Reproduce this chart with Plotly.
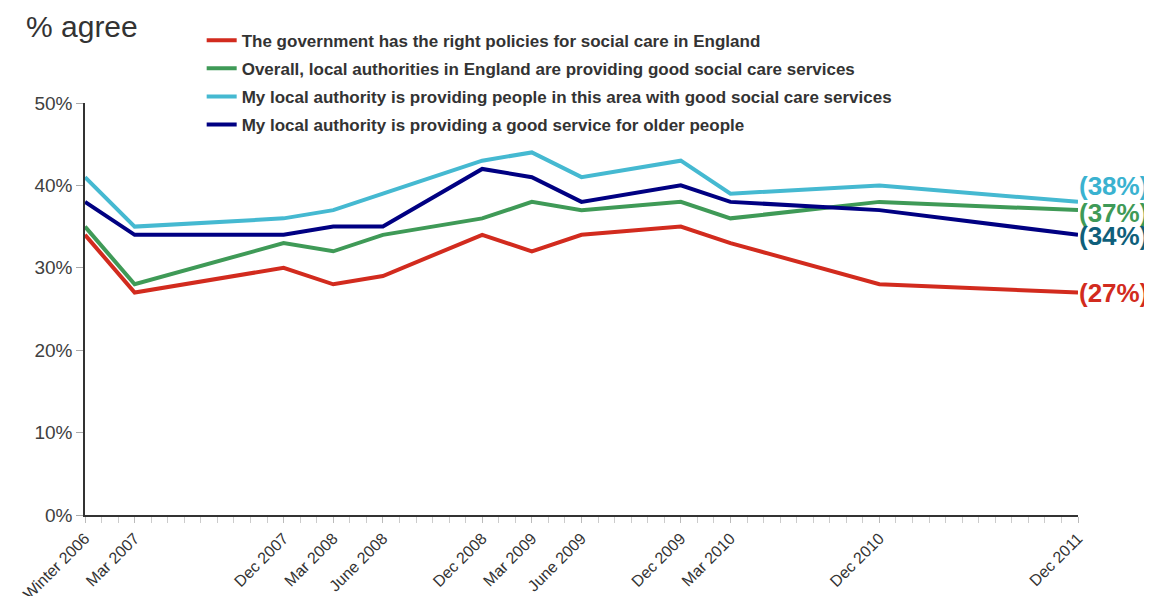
import plotly.graph_objects as go

# Survey waves (month offsets from Winter 2006 = Dec 2006)
wave_labels = ["Winter 2006", "Mar 2007", "Dec 2007", "Mar 2008", "June 2008", "Dec 2008",
               "Mar 2009", "June 2009", "Dec 2009", "Mar 2010", "Dec 2010", "Dec 2011"]
wave_months = [0, 3, 12, 15, 18, 24, 27, 30, 36, 39, 48, 60]

gov_policies = [34, 27, 30, 28, 29, 34, 32, 34, 35, 33, 28, 27]
la_england = [35, 28, 33, 32, 34, 36, 38, 37, 38, 36, 38, 37]
my_la_area = [41, 35, 36, 37, 39, 43, 44, 41, 43, 39, 40, 38]
my_la_older = [38, 34, 34, 35, 35, 42, 41, 38, 40, 38, 37, 34]

y_ticks = [0, 10, 20, 30, 40, 50]
y_tick_text = ["0%", "10%", "20%", "30%", "40%", "50%"]

series_names = [
    "The government has the right policies for social care in England",
    "Overall, local authorities in England are providing good social care services",
    "My local authority is providing people in this area with good social care services",
    "My local authority is providing a good service for older people",
]
series_values = [gov_policies, la_england, my_la_area, my_la_older]
line_colors = ["#d22b1e", "#3f9a57", "#45b9d1", "#000082"]
label_colors = ["#d22b1e", "#3f9a57", "#3ab2d0", "#0f5f7b"]
label_shift = [0, -3, 16, -1]

FONT = "Liberation Sans, Arial, sans-serif"

fig = go.Figure()
for i, (name, vals) in enumerate(zip(series_names, series_values)):
    fig.add_trace(go.Scatter(
        x=wave_months, y=vals, mode="lines", name=name,
        line=dict(color=line_colors[i], width=4),
        legendgroup=f"g{i}", hoverinfo="skip",
    ))
    fig.add_annotation(
        x=wave_months[-1], y=vals[-1], xref="x", yref="y",
        text=f"({vals[-1]}%)", showarrow=False, xanchor="left", yanchor="middle",
        xshift=-1, yshift=label_shift[i],
        font=dict(family=FONT, size=26, color=label_colors[i], weight="bold"),
    )

fig.add_annotation(
    x=0, y=1, xref="paper", yref="paper", xanchor="left", yanchor="top",
    text="% agree", showarrow=False, xshift=-61, yshift=95,
    font=dict(family=FONT, size=30, color="#333333"),
)

fig.update_layout(
    width=1144, height=588,
    margin=dict(l=77, r=74, t=95, b=81),
    paper_bgcolor="white", plot_bgcolor="white",
    font=dict(family=FONT, color="#404040"),
    showlegend=True,
    legend=dict(
        x=0.1175, y=1.195, xanchor="left", yanchor="top",
        font=dict(size=17, color="#333333", weight="bold"),
        traceorder="grouped", tracegroupgap=3,
        bgcolor="rgba(0,0,0,0)", itemwidth=30,
    ),
    xaxis=dict(
        range=[0, 60], tickvals=wave_months, ticktext=wave_labels,
        tickangle=-45, tickfont=dict(size=16, color="#333333"),
        showgrid=False, zeroline=False, automargin=False,
        showline=True, linecolor="#333333", linewidth=1.5,
        ticks="outside", ticklen=6, tickcolor="#bbbbbb",
        minor=dict(dtick=1, ticks="outside", ticklen=6, tickcolor="#cccccc", showgrid=False),
    ),
    yaxis=dict(
        range=[0, 50], tickvals=y_ticks, ticktext=y_tick_text,
        tickfont=dict(size=19, color="#404040"),
        showgrid=False, zeroline=False, automargin=False,
        showline=True, linecolor="#333333", linewidth=1.5,
        ticks="outside", ticklen=7, tickcolor="#aaaaaa",
    ),
)

fig.write_html("out.html")
